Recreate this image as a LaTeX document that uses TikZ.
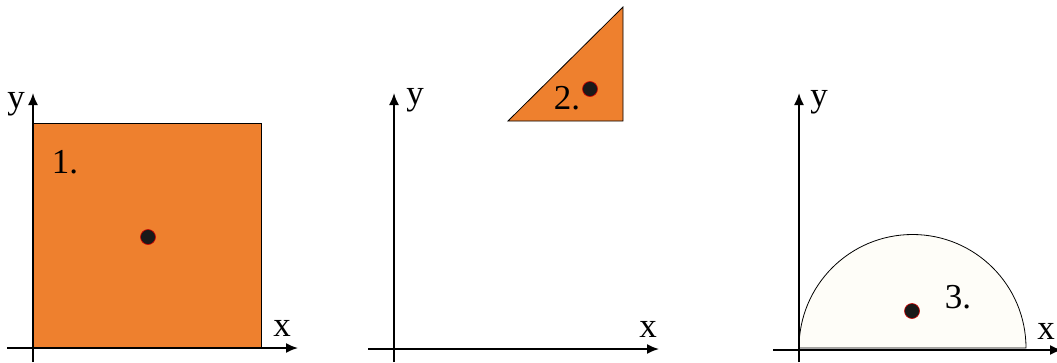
\documentclass[tikz,border=0pt]{standalone}
\usepackage{fontspec}
\setmainfont{Liberation Serif}
\usetikzlibrary{arrows.meta}
\definecolor{shapeorange}{RGB}{238,128,46}
\definecolor{cream}{RGB}{254,253,248}
\tikzset{
  axis/.style={line width=1.8pt,-{Latex[length=12pt,width=10pt]}},
  lbl/.style={font=\fontsize{35}{35}\selectfont,inner sep=0pt},
  cdot/.style={circle,fill=black!90,draw=red!80!black,line width=0.6pt,minimum size=15pt,inner sep=0pt},
  region/.style={draw=black,line width=0.8pt}
}
\begin{document}
\begin{tikzpicture}[x=1pt,y=-1pt]
\useasboundingbox (0,0) rectangle (1057,362);
% panel 1
\fill[shapeorange] (33,123) rectangle (261,348);
\draw[region] (33,348) -- (33,123) -- (261,123) -- (261,348);
\coordinate (y1s) at (33,362);
\coordinate (y1e) at (33,93);
\coordinate (x1s) at (7,348);
\coordinate (x1e) at (298,348);
\draw[axis] (y1s) -- (y1e);
\draw[axis] (x1s) -- (x1e);
\node[cdot] (d1) at (148,237) {};
\node[lbl] (l1) at (65,162) {1.};
\node[lbl] (ly1) at (16,104) {y};
\node[lbl] (lx1) at (282,328) {x};
% panel 2
\draw[region,fill=shapeorange] (508,121) -- (623,121) -- (623,7) -- cycle;
\coordinate (y2s) at (394,362);
\coordinate (y2e) at (394,93);
\coordinate (x2s) at (368,349);
\coordinate (x2e) at (659,349);
\draw[axis] (y2s) -- (y2e);
\draw[axis] (x2s) -- (x2e);
\node[cdot] (d2) at (590,89) {};
\node[lbl] (l2) at (567,98) {2.};
\node[lbl] (ly2) at (415,100) {y};
\node[lbl] (lx2) at (648,329) {x};
% panel 3
\draw[region,fill=cream] (799,348) arc[start angle=180,end angle=360,radius=113.5] -- cycle;
\coordinate (y3s) at (799,362);
\coordinate (y3e) at (799,93);
\coordinate (x3s) at (773,350);
\coordinate (x3e) at (1062,350);
\draw[axis] (y3s) -- (y3e);
\draw[axis] (x3s) -- (x3e);
\node[cdot] (d3) at (912,311) {};
\node[lbl] (l3) at (958,297) {3.};
\node[lbl] (ly3) at (819,102) {y};
\node[lbl] (lx3) at (1046,331) {x};
\end{tikzpicture}
\end{document}
